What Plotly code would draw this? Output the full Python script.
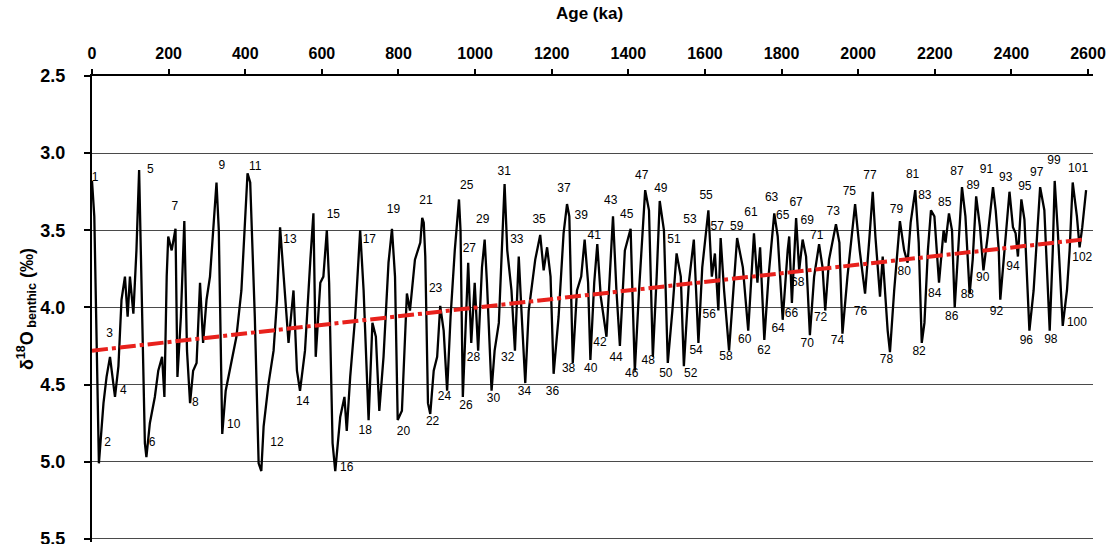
import plotly.graph_objects as go

# Benthic d18O stack, 0-2600 ka (age in ka, d18O in permil)
age_ka = [
    0, 6, 18, 30, 38, 47, 60, 69, 77, 86, 93, 99, 108, 116, 123, 130, 138, 142, 151, 164,
    173, 183, 189, 195, 199, 208, 218, 223, 232, 241, 248, 256, 264, 273, 282, 290, 299, 308, 316, 325,
    331, 340, 349, 364, 377, 390, 399, 406, 413, 425, 435, 442, 448, 461, 474, 483, 491, 500, 513, 526,
    535, 543, 556, 570, 578, 584, 596, 604, 613, 619, 628, 635, 648, 659, 665, 674, 687, 700, 709, 722,
    732, 741, 750, 761, 774, 783, 791, 798, 809, 822, 830, 843, 857, 862, 866, 870, 877, 883, 892, 901,
    909, 918, 927, 936, 947, 958, 962, 968, 977, 982, 990, 999, 1008, 1018, 1025, 1031, 1043, 1051, 1062, 1069,
    1077, 1084, 1095, 1104, 1114, 1121, 1131, 1140, 1157, 1170, 1179, 1188, 1197, 1205, 1218, 1231, 1240, 1246, 1255, 1266,
    1277, 1286, 1295, 1301, 1311, 1319, 1328, 1343, 1351, 1360, 1369, 1378, 1391, 1406, 1410, 1417, 1428, 1437, 1444, 1454,
    1464, 1474, 1482, 1493, 1503, 1515, 1526, 1537, 1545, 1558, 1571, 1583, 1593, 1609, 1618, 1626, 1635, 1641, 1650, 1663,
    1673, 1684, 1699, 1713, 1728, 1737, 1744, 1755, 1766, 1777, 1781, 1790, 1803, 1816, 1820, 1827, 1838, 1846, 1855, 1864,
    1874, 1885, 1898, 1907, 1914, 1924, 1942, 1951, 1959, 1972, 1984, 1992, 2004, 2018, 2029, 2038, 2045, 2057, 2064, 2077,
    2083, 2094, 2109, 2120, 2129, 2137, 2149, 2158, 2166, 2173, 2182, 2190, 2199, 2211, 2223, 2228, 2237, 2245, 2252, 2265,
    2271, 2280, 2291, 2299, 2308, 2318, 2327, 2338, 2352, 2359, 2367, 2371, 2382, 2395, 2404, 2411, 2417, 2426, 2434, 2447,
    2458, 2475, 2486, 2500, 2508, 2513, 2521, 2534, 2545, 2552, 2560, 2571, 2578, 2585, 2595,
]
d18o = [
    3.18, 3.41, 5.01, 4.62, 4.45, 4.32, 4.58, 4.38, 3.95, 3.80, 4.06, 3.80, 4.04, 3.63, 3.11, 3.89, 4.88, 4.97, 4.75, 4.58,
    4.41, 4.32, 4.58, 3.80, 3.54, 3.63, 3.49, 4.45, 4.06, 3.44, 4.28, 4.62, 4.41, 4.36, 3.84, 4.23, 3.95, 3.80, 3.50, 3.19,
    3.50, 4.82, 4.54, 4.36, 4.19, 3.89, 3.45, 3.13, 3.19, 4.06, 5.01, 5.06, 4.77, 4.49, 4.28, 3.95, 3.48, 3.80, 4.23, 3.89,
    4.41, 4.54, 4.28, 3.69, 3.39, 4.32, 3.84, 3.80, 3.50, 3.84, 4.88, 5.06, 4.71, 4.58, 4.80, 4.45, 4.06, 3.50, 3.89, 4.73,
    4.10, 4.19, 4.67, 4.32, 3.71, 3.49, 3.80, 4.73, 4.67, 3.91, 4.02, 3.69, 3.58, 3.42, 3.45, 3.67, 4.62, 4.69, 4.41, 4.32,
    3.99, 4.15, 4.54, 4.06, 3.63, 3.30, 3.50, 4.58, 3.95, 3.71, 4.23, 3.84, 4.28, 3.74, 3.56, 3.84, 4.54, 4.28, 4.10, 3.63,
    3.20, 3.63, 3.89, 4.28, 3.67, 4.02, 4.49, 4.02, 3.69, 3.53, 3.76, 3.61, 3.80, 4.43, 4.06, 3.52, 3.33, 3.41, 4.36, 3.89,
    3.80, 3.56, 3.84, 4.34, 3.84, 3.59, 3.93, 4.19, 3.80, 3.41, 3.89, 4.25, 3.63, 3.49, 3.84, 4.41, 3.89, 3.52, 3.24, 3.37,
    4.32, 3.80, 3.31, 3.50, 4.36, 4.02, 3.65, 3.80, 4.38, 3.84, 3.56, 4.23, 3.74, 3.37, 3.80, 3.65, 4.02, 3.55, 3.89, 4.28,
    3.93, 3.55, 3.74, 4.15, 3.52, 3.84, 3.61, 4.21, 3.80, 3.52, 3.39, 3.54, 4.08, 3.63, 3.54, 3.97, 3.42, 3.76, 3.56, 3.67,
    4.18, 3.80, 3.59, 3.74, 4.02, 3.69, 3.46, 3.58, 4.17, 3.80, 3.52, 3.33, 3.63, 3.91, 3.56, 3.25, 3.54, 3.93, 3.67, 4.15,
    4.29, 3.89, 3.44, 3.63, 3.71, 3.45, 3.24, 3.58, 4.23, 4.10, 3.63, 3.37, 3.41, 3.84, 3.50, 3.58, 3.39, 3.50, 4.00, 3.41,
    3.22, 3.41, 3.91, 3.69, 3.28, 3.48, 3.76, 3.54, 3.22, 3.37, 3.63, 3.95, 3.63, 3.25, 3.48, 3.52, 3.67, 3.30, 3.43, 4.15,
    3.89, 3.22, 3.37, 4.15, 3.63, 3.18, 3.50, 4.12, 3.89, 3.63, 3.19, 3.41, 3.61, 3.48, 3.24,
]

# Linear trend through the record
trend_age = [0, 2585]
trend_d18o = [4.28, 3.56]

# Marine isotope stage numbers and where each label sits
mis_label = list(range(1, 104))
mis_age = [
    8, 41, 46, 82, 152, 157, 216, 270, 339, 370, 426, 483, 517, 550, 630, 665, 724, 713, 787, 813,
    872, 889, 897, 920, 978, 976, 985, 996, 1020, 1048, 1076, 1085, 1109, 1129, 1167, 1202, 1232, 1244, 1277, 1302,
    1311, 1326, 1354, 1368, 1396, 1409, 1435, 1452, 1485, 1498, 1519, 1563, 1561, 1577, 1603, 1611, 1632, 1655, 1683, 1704,
    1720, 1754, 1774, 1791, 1803, 1826, 1838, 1842, 1867, 1867, 1892, 1902, 1935, 1946, 1977, 2006, 2031, 2074, 2100, 2120,
    2142, 2159, 2174, 2200, 2226, 2244, 2258, 2285, 2300, 2325, 2335, 2361, 2385, 2404, 2435, 2439, 2466, 2503, 2511, 2571,
    2574, 2585, 2624,
]
mis_d18o = [
    3.16, 4.88, 4.17, 4.54, 3.11, 4.88, 3.35, 4.62, 3.08, 4.76, 3.09, 4.88, 3.56, 4.61, 3.40, 5.04, 3.56, 4.80, 3.37, 4.81,
    3.31, 4.74, 3.88, 4.58, 3.21, 4.64, 3.62, 4.33, 3.43, 4.59, 3.12, 4.33, 3.56, 4.55, 3.43, 4.55, 3.23, 4.40, 3.41, 4.40,
    3.54, 4.23, 3.31, 4.33, 3.40, 4.43, 3.15, 4.35, 3.23, 4.43, 3.56, 4.43, 3.43, 4.28, 3.28, 4.05, 3.48, 4.32, 3.48, 4.21,
    3.39, 4.28, 3.29, 4.14, 3.41, 4.04, 3.32, 3.84, 3.44, 4.24, 3.54, 4.07, 3.38, 4.22, 3.25, 4.03, 3.15, 4.34, 3.37, 3.77,
    3.14, 4.29, 3.28, 3.91, 3.32, 4.06, 3.12, 3.92, 3.21, 3.81, 3.11, 4.03, 3.16, 3.74, 3.22, 4.22, 3.13, 4.21, 3.05, 4.10,
    3.10, 3.68, 3.21,
]

x_range = [0, 2613]
y_range = [5.52, 2.5]
x_ticks = list(range(0, 2601, 200))
y_ticks = [2.5, 3.0, 3.5, 4.0, 4.5, 5.0, 5.5]

FONT = "Liberation Sans, Arial, sans-serif"
BOLD16 = dict(family=FONT, size=16, color="black", weight="bold")
BOLD18 = dict(family=FONT, size=18, color="black", weight="bold")

fig = go.Figure()

fig.add_trace(go.Scatter(
    x=age_ka, y=d18o, mode="lines",
    line=dict(color="black", width=2.3),
    hoverinfo="x+y", showlegend=False,
))

fig.add_trace(go.Scatter(
    x=trend_age, y=trend_d18o, mode="lines",
    line=dict(color="#e8211c", width=4, dash="16px,4px,4px,4px"),
    showlegend=False,
))

# stage numbers live on the label-carrying overlay axes (same scale as the main axes)
fig.add_trace(go.Scatter(
    x=mis_age, y=mis_d18o, mode="text",
    text=[str(n) for n in mis_label],
    textposition="middle center",
    textfont=dict(family=FONT, size=12, color="black"),
    cliponaxis=False, showlegend=False, hoverinfo="skip",
    xaxis="x2", yaxis="y2",
))

fig.update_layout(
    width=1116, height=544,
    margin=dict(l=92, r=23, t=76, b=2),
    paper_bgcolor="white", plot_bgcolor="white",
    font=dict(family=FONT, color="black"),
    # axes carrying the lines and the short visible ticks
    xaxis=dict(
        side="top", range=x_range, tickvals=x_ticks,
        showgrid=False, zeroline=False,
        showline=True, linecolor="black", linewidth=2,
        ticks="outside", ticklen=5, tickwidth=2, tickcolor="black",
        showticklabels=False,
    ),
    yaxis=dict(
        range=y_range, tickvals=y_ticks,
        showgrid=True, gridcolor="#4a4a4a", gridwidth=1.2, zeroline=False,
        showline=True, linecolor="black", linewidth=2,
        ticks="outside", ticklen=6, tickwidth=2, tickcolor="black",
        showticklabels=False,
    ),
    # overlay axes carrying the tick labels, set back from the lines
    xaxis2=dict(
        overlaying="x", side="top", anchor="y2",
        range=x_range, tickvals=x_ticks,
        showgrid=False, zeroline=False, showline=False,
        ticks="outside", ticklen=10, tickcolor="rgba(0,0,0,0)",
        tickfont=BOLD16,
    ),
    yaxis2=dict(
        overlaying="y", side="left", anchor="x2",
        range=y_range, tickvals=y_ticks, tickformat=".1f",
        showgrid=False, zeroline=False, showline=False,
        ticks="outside", ticklen=22, tickcolor="rgba(0,0,0,0)",
        tickfont=BOLD18, ticklabeloverflow="allow",
        title=dict(
            text="δ<sup>18</sup>O<sub> benthic</sub> (‰)", standoff=2,
            font=BOLD18,
        ),
        automargin=False,
    ),
    annotations=[
        dict(
            text="Age (ka)", xref="paper", yref="paper",
            x=0.497, y=1 + (76 - 14) / 466, xanchor="center", yanchor="middle",
            showarrow=False, font=dict(family=FONT, size=17, color="black", weight="bold"),
        ),
    ],
)

fig.write_html("out.html")
